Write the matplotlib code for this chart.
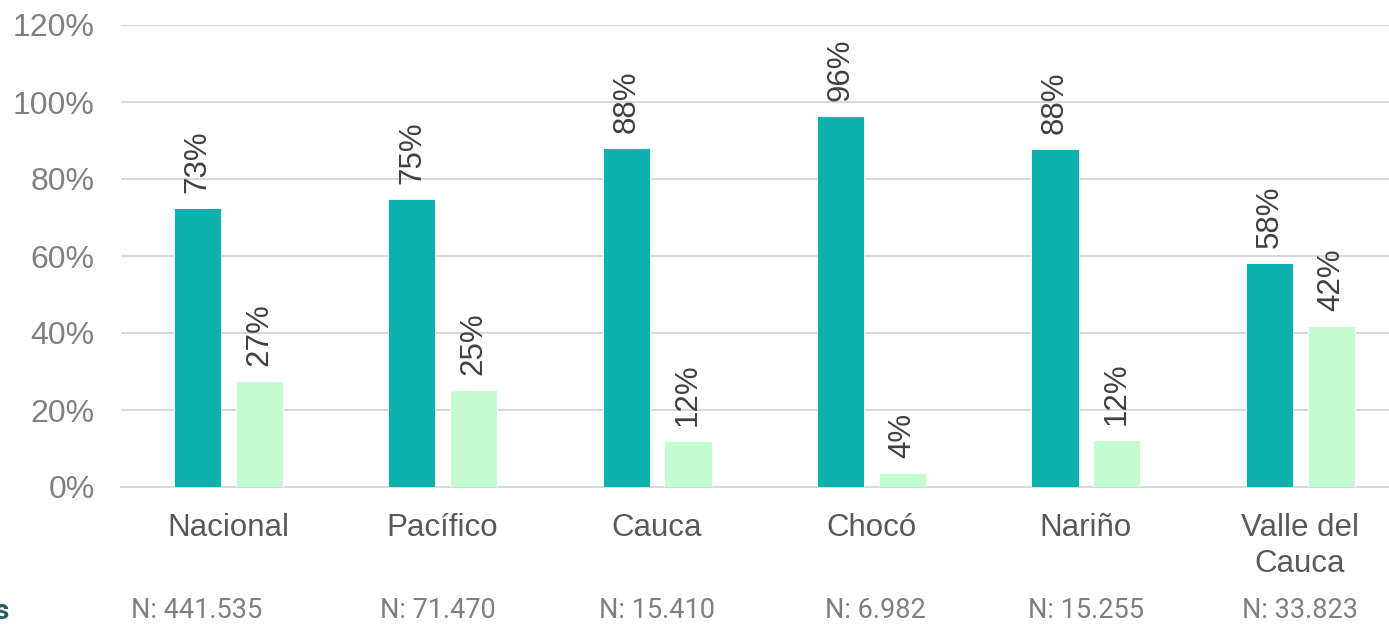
import matplotlib.pyplot as plt
import numpy as np

plt.rcParams['font.family'] = ['Liberation Sans', 'DejaVu Sans']

# data
regiones = ['Nacional', 'Pacífico', 'Cauca', 'Chocó', 'Nariño', 'Valle del\nCauca']
serie1 = [72.5, 74.8, 88.0, 96.4, 87.8, 58.2]
serie2 = [27.5, 25.2, 12.0, 3.6, 12.2, 41.8]
etiq1 = ['73%', '75%', '88%', '96%', '88%', '58%']
etiq2 = ['27%', '25%', '12%', '4%', '12%', '42%']
n_labels = ['N: 441.535', 'N: 71.470', 'N: 15.410', 'N: 6.982', 'N: 15.255', 'N: 33.823']
yticks = [0, 20, 40, 60, 80, 100, 120]

teal = '#0CB0AC'
light = '#C4FDD2'

fig = plt.figure(figsize=(13.89, 6.25), dpi=100)
ax = fig.add_axes([0.0871, 0.2208, 0.926, 0.7392])

x = np.arange(len(regiones))
w = 0.22
b1 = ax.bar(x - 0.143, serie1, w, color=teal, edgecolor='white', linewidth=0.6, zorder=3)
b2 = ax.bar(x + 0.145, serie2, w, color=light, edgecolor='white', linewidth=0.6, zorder=3)

for rect, lab in zip(b1, etiq1):
    ax.annotate(lab, (rect.get_x() + rect.get_width() / 2, rect.get_height()),
                xytext=(0, 11), textcoords='offset points', rotation=90,
                ha='center', va='bottom', fontsize=22.5, color='#404040')
for rect, lab in zip(b2, etiq2):
    ax.annotate(lab, (rect.get_x() + rect.get_width() / 2, rect.get_height()),
                xytext=(0, 11), textcoords='offset points', rotation=90,
                ha='center', va='bottom', fontsize=22.5, color='#404040')

ax.set_xlim(-0.5, len(regiones) - 0.5)
ax.set_ylim(0, 120)
ax.set_yticks(yticks)
ax.set_yticklabels([f'{t}%' for t in yticks], fontsize=23, color='#808080')
ax.set_xticks(x)
ax.set_xticklabels(regiones, fontsize=22.5, color='#595959', linespacing=1.25, va='top')
ax.tick_params(axis='both', length=0)
ax.tick_params(axis='y', pad=19)
ax.tick_params(axis='x', pad=19)

ax.grid(axis='y', color='#d9d9d9', linewidth=1.5, zorder=0)
for s in ['top', 'right', 'left']:
    ax.spines[s].set_visible(False)
ax.spines['bottom'].set_color('#d9d9d9')
ax.spines['bottom'].set_linewidth(1.5)

# N labels under each group (first one sits a bit to the left)
n_shift = [-23, -3, 0, 3, 0, 0]
for xi, nl, dx in zip(x, n_labels, n_shift):
    ax.annotate(nl, (xi, 0), xycoords=('data', 'figure fraction'), xytext=(dx, 1),
                textcoords='offset points', ha='center', va='bottom',
                fontsize=19.5, color='#7f7f7f', family=['Roboto', 'DejaVu Sans'])

fig.text(-0.004, 0.0, 's', fontsize=20, color='#2E5A66', fontweight='bold',
         family=['Roboto', 'DejaVu Sans'], va='bottom', ha='left')

fig.savefig('out.png', dpi=100)
